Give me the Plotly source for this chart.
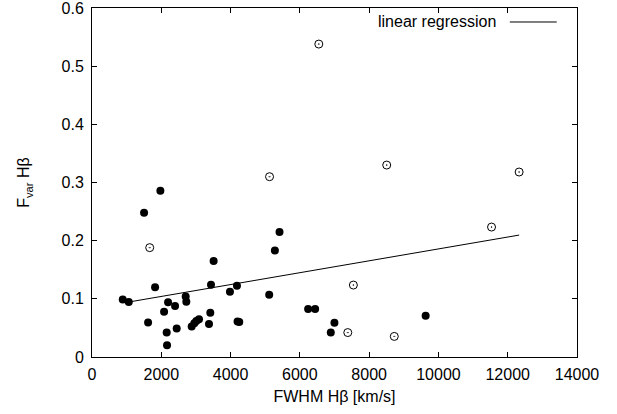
import plotly.graph_objects as go

# Filled points (FWHM Hbeta [km/s], F_var Hbeta)
filled_x = [888, 1061, 1503, 1974, 1821, 1619, 2081, 2196, 2156, 2166, 2397, 2445,
            2704, 2723, 2877, 2954, 3012, 3089, 3377, 3415, 3435, 3511, 3982, 4184,
            4202, 4251, 5115, 5279, 5413, 6239, 6441, 6893, 6998, 9631]
filled_y = [0.099, 0.0945, 0.248, 0.286, 0.120, 0.0595, 0.078, 0.094, 0.042, 0.020,
            0.0876, 0.049, 0.104, 0.095, 0.0526, 0.058, 0.062, 0.065, 0.0567, 0.076,
            0.124, 0.165, 0.112, 0.1225, 0.061, 0.060, 0.107, 0.183, 0.215, 0.0825,
            0.0825, 0.042, 0.059, 0.071]

# Open (dotted) points
open_x = [1666, 5125, 6547, 7383, 7545, 8507, 8726, 11533, 12329]
open_y = [0.188, 0.310, 0.538, 0.042, 0.1237, 0.330, 0.0354, 0.2234, 0.318]

# Linear regression endpoints
reg_x = [1060, 12330]
reg_y = [0.0945, 0.2096]

x_ticks = [0, 2000, 4000, 6000, 8000, 10000, 12000, 14000]
y_ticks = [0, 0.1, 0.2, 0.3, 0.4, 0.5, 0.6]
y_tick_text = ["0", "0.1", "0.2", "0.3", "0.4", "0.5", "0.6"]

FONT = "Liberation Sans, Arial, Helvetica, sans-serif"
FS = 16

fig = go.Figure()
fig.add_trace(go.Scatter(x=reg_x, y=reg_y, mode="lines",
                         line=dict(color="black", width=1), showlegend=False,
                         hoverinfo="skip"))
fig.add_trace(go.Scatter(x=filled_x, y=filled_y, mode="markers",
                         marker=dict(symbol="circle", size=8, color="black",
                                     line=dict(width=0)),
                         showlegend=False))
fig.add_trace(go.Scatter(x=open_x, y=open_y, mode="markers",
                         marker=dict(symbol="circle-open-dot", size=8, color="black",
                                     line=dict(width=1, color="black")),
                         showlegend=False))

axis_common = dict(showgrid=False, zeroline=False, showline=True, linecolor="black",
                   linewidth=1, mirror="ticks", ticks="inside", ticklen=5,
                   tickcolor="black", tickwidth=1, ticklabeloverflow="allow",
                   automargin=False,
                   tickfont=dict(family=FONT, size=FS, color="black"))

fig.update_xaxes(range=[0, 14000.01], tickvals=x_ticks,
                 ticktext=[str(v) for v in x_ticks],
                 title=dict(text="FWHM Hβ [km/s]", standoff=8,
                            font=dict(family=FONT, size=FS, color="black")),
                 ticklabelstandoff=3,
                 **axis_common)
fig.update_yaxes(range=[0, 0.60001], tickvals=y_ticks,
                 ticktext=y_tick_text,
                 title=dict(text="F<sub>var</sub> Hβ", standoff=27,
                            font=dict(family=FONT, size=FS, color="black")),
                 ticklabelstandoff=4,
                 **axis_common)

# Legend (text on the left, line sample on the right, as in the reference)
fig.add_annotation(xref="paper", yref="paper", x=(498 - 91.5) / 485.8,
                   y=(357.3 - 22) / 349.3, xanchor="right", yanchor="middle",
                   text="linear regression", showarrow=False,
                   font=dict(family=FONT, size=FS, color="black"))
fig.add_shape(type="line", xref="paper", yref="paper",
              x0=(510 - 91.5) / 485.8, x1=(557 - 91.5) / 485.8,
              y0=(357.3 - 22) / 349.3, y1=(357.3 - 22) / 349.3,
              line=dict(color="black", width=1))

fig.update_layout(width=617, height=414,
                  margin=dict(l=91.5, r=39.7, t=8, b=56.7),
                  plot_bgcolor="white", paper_bgcolor="white",
                  font=dict(family=FONT, size=FS, color="black"))

fig.write_html("out.html")
